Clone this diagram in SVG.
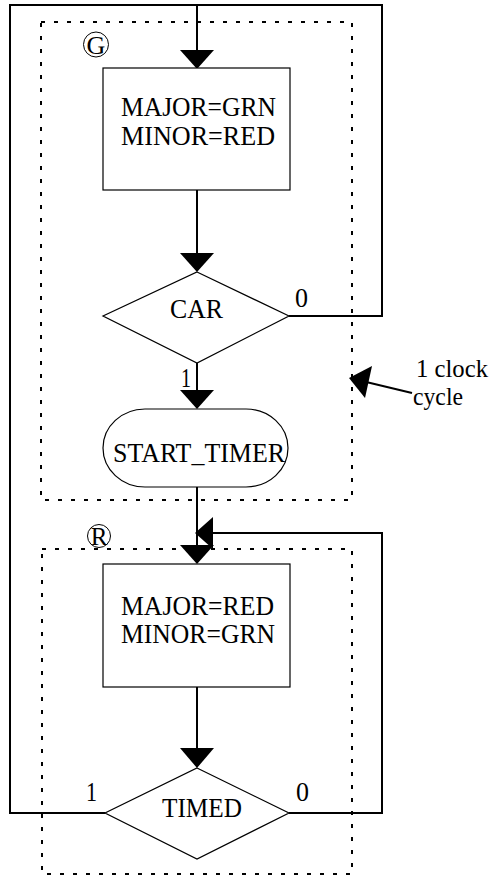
<svg xmlns="http://www.w3.org/2000/svg" width="495" height="877" viewBox="0 0 495 877">
<style>
.t{font-family:"Liberation Serif","Times New Roman",serif;font-size:28px;fill:#000}
.c{text-anchor:middle}
.shape{fill:#fff;stroke:#000;stroke-width:1.2}
.wire{fill:none;stroke:#000;stroke-width:2}
.dash{fill:none;stroke:#000;stroke-width:2;stroke-dasharray:4 9}
.head{fill:#000;stroke:none}
.ring{fill:none;stroke:#000;stroke-width:1}
</style>
<rect width="495" height="877" fill="#fff"/>
<g id="stateG">
<rect class="dash" x="41" y="22" width="311" height="478"/>
<circle class="ring" cx="96" cy="44.5" r="12.5"/>
<text class="t c" x="96" y="53.5" style="font-size:26px">G</text>
</g>
<g id="stateR">
<rect class="dash" x="42" y="549" width="310" height="325"/>
<circle class="ring" cx="99" cy="536" r="11.5"/>
<text class="t c" x="99" y="544.5" style="font-size:25px">R</text>
</g>
<g id="connectors">
<line class="wire" x1="197" y1="5" x2="197" y2="55"/>
<polygon class="head" points="180,50 214,50 197,69"/>
<line class="wire" x1="197" y1="190" x2="197" y2="258"/>
<polygon class="head" points="180,253 214,253 197,272"/>
<line class="wire" x1="197" y1="363" x2="197" y2="395"/>
<polygon class="head" points="180,390 214,390 197,409"/>
<line class="wire" x1="197" y1="487" x2="197" y2="550"/>
<polygon class="head" points="180,545 214,545 197,564"/>
<line class="wire" x1="197" y1="687" x2="197" y2="753"/>
<polygon class="head" points="180,748 214,748 197,768"/>
<polyline class="wire" points="105,813 10,813 10,5 382,5 382,316 289,316"/>
<polyline class="wire" points="289,813 382,813 382,533 208,533"/>
<polygon class="head" points="213,517 213,549 195,533"/>
<line class="wire" x1="412" y1="393" x2="362" y2="381"/>
<polygon class="head" points="349,378 372,366 365,398"/>
<text class="t" x="295" y="307" textLength="13" lengthAdjust="spacingAndGlyphs">0</text>
<text class="t" x="181" y="387" textLength="10" lengthAdjust="spacingAndGlyphs">1</text>
<text class="t" x="86" y="801" textLength="11" lengthAdjust="spacingAndGlyphs">1</text>
<text class="t" x="296" y="801" textLength="13" lengthAdjust="spacingAndGlyphs">0</text>
</g>
<g id="box1">
<rect class="shape" x="103" y="68" width="187" height="122"/>
<text class="t" x="121" y="116" textLength="155" lengthAdjust="spacingAndGlyphs">MAJOR=GRN</text>
<text class="t" x="121" y="145" textLength="154" lengthAdjust="spacingAndGlyphs">MINOR=RED</text>
</g>
<g id="car">
<polygon class="shape" points="197,272 289,316 197,363 103,316"/>
<text class="t" x="170" y="318" textLength="53" lengthAdjust="spacingAndGlyphs">CAR</text>
</g>
<g id="startTimer">
<rect class="shape" x="103" y="409" width="185" height="78" rx="42" ry="39"/>
<text class="t" x="113" y="462" textLength="172" lengthAdjust="spacingAndGlyphs">START_TIMER</text>
</g>
<g id="box2">
<rect class="shape" x="103" y="564" width="187" height="123"/>
<text class="t" x="121" y="615" textLength="153" lengthAdjust="spacingAndGlyphs">MAJOR=RED</text>
<text class="t" x="121" y="643" textLength="154" lengthAdjust="spacingAndGlyphs">MINOR=GRN</text>
</g>
<g id="timed">
<polygon class="shape" points="197,768 289,813 197,859 105,813"/>
<text class="t" x="162" y="817" textLength="80" lengthAdjust="spacingAndGlyphs">TIMED</text>
</g>
<g id="clockNote">
<text class="t" x="416" y="377" style="font-size:25px" textLength="72" lengthAdjust="spacingAndGlyphs">1 clock</text>
<text class="t" x="413" y="405" style="font-size:25px" textLength="50" lengthAdjust="spacingAndGlyphs">cycle</text>
</g>
</svg>
